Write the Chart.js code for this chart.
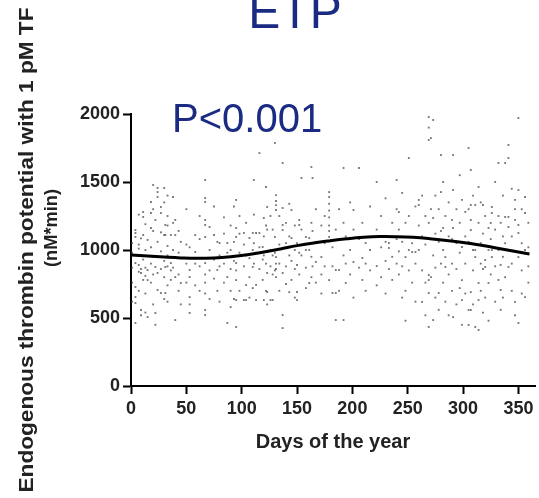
<!DOCTYPE html>
<html>
<head>
<meta charset="utf-8">
<script src="https://cdn.jsdelivr.net/npm/chart.js@4.4.1/dist/chart.umd.min.js"></script>
<style>
  html, body { margin: 0; padding: 0; background: #fff; }
  #wrap { width: 539px; height: 498px; position: relative; }
</style>
</head>
<body>
<div id="wrap"><canvas id="etp-chart" width="539" height="498"></canvas></div>
<script>
// --- data ---
const xTicks = [0, 50, 100, 150, 200, 250, 300, 350];
const yTicks = [0, 500, 1000, 1500, 2000];

// sampling days and the ETP values measured on each day
const sampleDays = [
  1, 4, 7, 9, 11, 13, 15, 18, 20, 22, 24, 27, 30, 31, 33, 36, 38, 40, 43, 45,
  50, 53, 58, 62, 67, 71, 75, 78, 80, 84, 87, 90, 93, 95, 98, 102, 104, 107, 110, 111,
  113, 116, 119, 120, 122, 123, 126, 128, 130, 131, 134, 137, 140, 143, 145, 148, 150, 152, 154, 158,
  161, 163, 164, 167, 172, 175, 179, 182, 185, 188, 192, 194, 198, 201, 206, 209, 212, 216, 222, 226,
  230, 233, 236, 240, 242, 245, 248, 251, 254, 257, 260, 263, 266, 269, 271, 273, 275, 278, 280, 282,
  284, 287, 290, 291, 294, 297, 299, 302, 305, 307, 309, 311, 314, 316, 318, 320, 323, 325, 326, 329,
  332, 334, 336, 338, 341, 344, 347, 350, 353, 356, 359
];
const sampleEtp = [
  [1050, 980, 870, 760, 620], [1147, 1125, 1096, 904, 728, 654, 610, 463], [1260, 1040, 1010, 890, 840, 700],
  [1085, 860, 831, 559, 520], [1279, 1243, 1110, 930, 780], [1190, 1000, 870, 810, 680, 540],
  [1074, 853, 779, 507], [1353, 1272, 1162, 1020, 900, 760], [1478, 1300, 1140, 950, 820, 600],
  [1220, 875, 537, 450], [1456, 1426, 1390, 1060, 831, 706], [1316, 1272, 1130, 990, 860, 684],
  [1456, 1350, 1110, 920, 800, 640], [1184, 1110, 875, 684], [1400, 1250, 1180, 1030, 960, 880, 740, 620],
  [1110, 904, 850, 780], [1390, 1200, 1000, 870], [1221, 1110, 801, 485], [1140, 980, 820, 700],
  [1060, 757, 600],
  [1300, 1040, 900, 760], [1020, 853, 801, 654, 600, 537], [1110, 985, 900, 740], [1250, 1080, 880, 700],
  [1515, 1382, 1353, 1221, 1184, 1096, 904, 820, 760, 680, 559, 522], [1169, 1000, 850, 640],
  [1320, 1110, 930, 790], [1060, 853, 700], [1051, 960, 880, 620], [1240, 1120, 900, 760],
  [1051, 980, 801, 463], [1180, 1000, 860, 700, 580], [1320, 1060, 920, 640],
  [1368, 1162, 1096, 904, 850, 779, 632, 434], [1250, 1120, 980, 700], [1125, 1040, 880, 632],
  [1200, 960, 743, 632], [1088, 940, 800, 650], [1125, 1000, 875, 720], [1515, 1260, 1050, 900],
  [1125, 980, 743, 632], [1713, 1125, 1020, 860], [1022, 930, 780], [1235, 1100, 960, 632],
  [1463, 1180, 900, 700], [1316, 1150, 831, 691, 600], [1250, 1000, 880, 632], [1150, 960, 820, 632],
  [1787, 1096, 980, 850], [1404, 1360, 1330, 1294, 948, 900, 860, 801], [1250, 1040, 900, 700],
  [1640, 1309, 1184, 1147, 831, 522, 426], [1200, 1050, 880, 750], [1340, 1100, 960, 690],
  [1294, 1088, 920, 780], [1180, 1000, 860, 650], [1051, 890, 691, 632], [1221, 1184, 980, 820],
  [1529, 1150, 960], [1096, 1000, 870, 720],
  [1088, 1000, 757], [1610, 1200, 950, 800], [1529, 1140, 880], [1300, 1060, 912, 760],
  [1180, 948, 820, 680], [1250, 1050, 880], [1426, 1390, 1340, 1290, 1240, 1180, 1140, 1096, 779],
  [1020, 880, 684], [1150, 853, 684, 485], [1300, 853, 700], [1603, 1200, 960, 485], [1100, 900, 757],
  [1350, 1000, 820], [1294, 1150, 912, 650], [1603, 1080, 870], [1200, 941, 780], [1051, 900, 700],
  [1320, 1000, 850], [1500, 1150, 882, 740], [1250, 1020, 800],
  [1380, 1060, 920, 680], [1051, 1015, 860], [1200, 950, 780], [1515, 1300, 1080, 900],
  [1279, 1150, 990, 820], [1420, 1060, 880, 650], [1200, 948, 700, 480], [1676, 1250, 1000, 850],
  [1050, 985, 760], [1320, 985, 900, 620], [1368, 1331, 1180, 1000], [1400, 1100, 850, 618],
  [1250, 1040, 760, 520], [1978, 1900, 1809, 1200, 816, 779, 684, 434], [1823, 1300, 1080, 801],
  [1956, 1235, 960, 485], [1400, 1120, 870, 650], [1300, 1060, 684, 560], [1698, 1426, 1140, 900],
  [1500, 1162, 1000, 760],
  [1250, 948, 875, 620], [1350, 1100, 820, 520], [1221, 1080, 900, 700], [1698, 1441, 1162, 507],
  [1300, 1050, 860, 600], [1550, 1200, 980, 720], [1368, 1022, 779, 632, 449], [1280, 1100, 900, 680],
  [1750, 1300, 1060, 559, 449], [1588, 1331, 1221, 1147, 690, 559], [1400, 1000, 850, 600],
  [1331, 1000, 948, 434], [1463, 1200, 757, 632, 412], [1350, 1050, 900, 700], [1331, 1120, 860, 540],
  [1250, 926, 875, 650], [1162, 1000, 757, 480], [1199, 1080, 820], [1316, 1272, 1000, 948],
  [1500, 1150, 880, 620],
  [1640, 1250, 1000, 780], [1200, 890, 706, 560], [1400, 1100, 950, 650], [1640, 1243, 1050, 800],
  [1772, 1676, 1243, 1169, 875], [1450, 1100, 900, 700], [1368, 1300, 1221, 618, 520],
  [1970, 1441, 1184, 1125, 948, 463], [1300, 1050, 850, 680], [1390, 1272, 1000, 654],
  [1200, 1020, 880, 760]
];

// fitted seasonal curve
const curveDays = [0, 15, 30, 45, 60, 75, 90, 105, 120, 135, 150, 165, 180, 195, 210, 225, 240, 255, 270, 285, 300, 315, 330, 345, 360];
const curveEtp = [963, 955, 948, 942, 939, 942, 951, 965, 985, 1008, 1032, 1052, 1068, 1082, 1093, 1099, 1098, 1093, 1083, 1070, 1055, 1037, 1015, 993, 970];

const titleText = 'ETP';
const pText = 'P<0.001';
const xTitle = 'Days of the year';
const yTitle1 = 'Endogenous thrombin potential with 1 pM TF';
const yTitle2 = '(nM*min)';

// --- build datasets ---
let scatterPts = [];
sampleDays.forEach((d, i) => {
  sampleEtp[i].forEach(v => scatterPts.push({ x: d, y: v }));
});
const curvePts = curveDays.map((d, i) => ({ x: d, y: curveEtp[i] }));

const FONT = '"Liberation Sans", Arial, Helvetica, sans-serif';
const BLUE = '#1b2a82';

const textPlugin = {
  id: 'textPlugin',
  afterDraw(chart) {
    const ctx = chart.ctx;
    ctx.save();
    ctx.fillStyle = BLUE;
    ctx.textBaseline = 'alphabetic';
    ctx.textAlign = 'center';
    ctx.font = '48px ' + FONT;
    ctx.fillText(titleText, 295, 28);
    ctx.textAlign = 'left';
    ctx.font = '40px ' + FONT;
    ctx.fillText(pText, 172, 132);

    ctx.fillStyle = '#222';
    ctx.textAlign = 'center';
    ctx.font = 'bold 20px ' + FONT;
    ctx.fillText(xTitle, 333, 448);

    // rotated y title, two lines
    const drawFit = (txt, size, bx, cy, len) => {
      ctx.save();
      ctx.font = 'bold ' + size + 'px ' + FONT;
      const w = ctx.measureText(txt).width;
      ctx.translate(bx, cy);
      ctx.rotate(-Math.PI / 2);
      ctx.scale(len / w, 1);
      ctx.fillText(txt, 0, 0);
      ctx.restore();
    };
    drawFit(yTitle1, 20, 33, 250, 485);
    drawFit(yTitle2, 19, 57, 228, 78);
    ctx.restore();
  },
};

new Chart(document.getElementById('etp-chart'), {
  type: 'scatter',
  data: {
    datasets: [
      {
        label: 'ETP',
        data: scatterPts,
        pointStyle: 'rect',
        pointRadius: 1.3,
        pointBorderWidth: 0,
        backgroundColor: 'rgba(70,70,70,0.75)',
        borderColor: 'rgba(70,70,70,0.75)',
        order: 2,
      },
      {
        label: 'Fit',
        type: 'line',
        data: curvePts,
        borderColor: '#000',
        borderWidth: 3,
        pointRadius: 0,
        tension: 0.4,
        fill: false,
        order: 1,
      },
    ],
  },
  options: {
    responsive: false,
    animation: false,
    layout: { padding: { top: 114, right: 1, left: 0, bottom: 0 } },
    plugins: {
      legend: { display: false },
      tooltip: { enabled: false },
    },
    scales: {
      x: {
        type: 'linear',
        min: 0,
        max: 365,
        afterFit: s => { s.height = 112; },
        afterBuildTicks: s => { s.ticks = xTicks.map(v => ({ value: v })); },
        border: { color: '#000', width: 2 },
        grid: { drawOnChartArea: false, drawTicks: true, tickLength: 8, tickWidth: 2, tickColor: '#000' },
        ticks: {
          padding: 4,
          color: '#222',
          font: { family: FONT, size: 18, weight: 'bold' },
          maxRotation: 0,
          callback: v => String(v),
        },
      },
      y: {
        min: 0,
        max: 2000,
        afterFit: s => { s.width = 131; },
        afterBuildTicks: s => { s.ticks = yTicks.map(v => ({ value: v })); },
        border: { color: '#000', width: 2 },
        grid: { drawOnChartArea: false, drawTicks: true, tickLength: 8, tickWidth: 2, tickColor: '#000' },
        ticks: {
          padding: 3,
          color: '#222',
          font: { family: FONT, size: 18, weight: 'bold' },
          callback: v => String(v),
        },
      },
    },
  },
  plugins: [textPlugin],
});
</script>
</body>
</html>
